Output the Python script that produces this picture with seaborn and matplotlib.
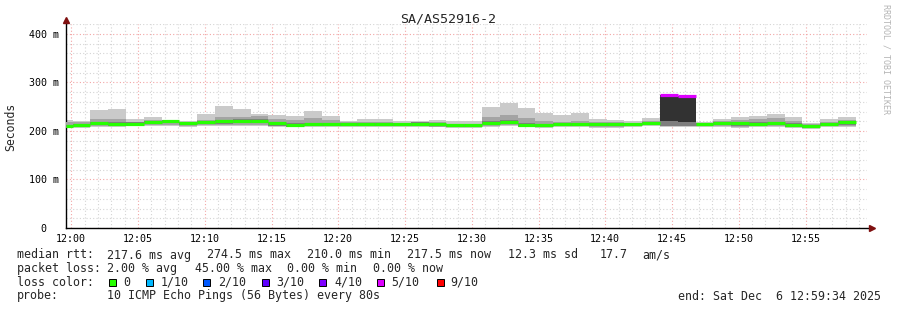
import numpy as np
import matplotlib
matplotlib.use("Agg")
import matplotlib.pyplot as plt
import seaborn as sns
from matplotlib.patches import Rectangle

# ---------------- data (minutes after 12:00, ms) ----------------
# bin start times: first partial bin then 44 probe rounds every 80 s
bin_starts = [-0.433] + [0.1 + 80 * j / 60 for j in range(44)]
bin_end_last = 0.1 + 80 * 44 / 60

median = [210.0, 212.4, 216.5, 215.0, 215.0, 218.6, 220.6, 215.8, 218.6, 220.0,
          221.0, 221.0, 215.8, 213.0, 214.4, 214.4, 214.0, 214.4, 214.0, 213.7,
          215.0, 214.0, 211.7, 212.0, 216.5, 218.0, 213.3, 211.7, 214.4, 214.4,
          214.0, 214.0, 214.0, 217.0, 274.5, 271.5, 214.8, 216.5, 215.5, 215.0,
          216.5, 213.0, 210.2, 214.0, 217.5]
loss = [0] * 34 + [4.5, 4.5] + [0] * 9          # lost pings out of 10

smoke_max = [222, 220.6, 243, 245.4, 224, 229.5, 222, 220.6, 235, 252,
             245, 235, 233, 231, 241, 231, 221, 224.7, 224, 221,
             221, 222, 220, 220, 250, 258, 248, 238, 233, 238,
             224.7, 222, 221, 227, 275, 272, 219, 224, 229.5, 231.5,
             235, 229.5, 217, 224, 228.8]
smoke_min = [206, 207, 209, 209, 210, 210, 211, 209, 210, 211,
             211, 211, 209, 208, 209, 209, 209, 209, 209, 209,
             209, 208, 207, 207, 209, 210, 209, 207, 209, 209,
             207, 207, 209, 210, 208, 208, 209, 209, 207, 208,
             209, 207, 205, 208, 209]
mid_hi = [218, 218, 224, 225, 219, 222, 222, 218, 223, 229,
          229, 230, 225, 222, 226, 222, 218, 218, 218, 217,
          218, 218, 215, 215, 228, 232, 226, 220, 219, 220,
          218, 218, 217, 221, 222, 222, 217, 220, 222, 224,
          226, 220, 214, 219, 223]
mid_lo = [207, 208, 211, 211, 211, 212, 213, 211, 212, 213,
          212, 213, 210, 209, 210, 210, 210, 210, 210, 210,
          210, 209, 208, 209, 210, 212, 210, 208, 210, 210,
          208, 208, 210, 212, 210, 210, 211, 211, 209, 210,
          211, 209, 207, 210, 211]
inner_hi = [213, 215, 219, 218, 218, 221, 223, 218, 221, 223,
            224, 224, 219, 216, 217, 217, 217, 217, 217, 216,
            218, 217, 214, 215, 220, 222, 216, 214, 217, 217,
            216, 216, 216, 219, 220, 220, 217, 219, 218, 218,
            219, 216, 212, 217, 220]
inner_lo = [207, 208, 212, 211, 211, 214, 216, 212, 214, 215,
            216, 216, 211, 209, 210, 210, 210, 210, 210, 210,
            211, 210, 208, 208, 212, 214, 209, 208, 210, 210,
            210, 210, 210, 213, 211, 211, 211, 212, 211, 211,
            212, 209, 207, 210, 213]
core_bins = [34, 35]
core_lo = [220, 219]

x_ticks = [0, 5, 10, 15, 20, 25, 30, 35, 40, 45, 50, 55]
x_labels = ["12:00", "12:05", "12:10", "12:15", "12:20", "12:25",
            "12:30", "12:35", "12:40", "12:45", "12:50", "12:55"]
y_ticks = [0, 100, 200, 300, 400]
y_labels = ["0  ", "100 m", "200 m", "300 m", "400 m"]

loss_names = ["0", "1/10", "2/10", "3/10", "4/10", "5/10", "9/10"]
loss_levels = [0, 1, 2, 3, 4, 5, 9]
loss_colors = ["#26ff00", "#00b8ff", "#0059ff", "#5e00ff", "#7e00ff", "#dd00ff", "#ff0000"]


def loss_color(n):
    col = loss_colors[0]
    for lvl, c in zip(loss_levels, loss_colors):
        if round(n + 1e-9) >= lvl:
            col = c
    return col


# ---------------- figure ----------------
sns.set_theme(style="white")
plt.rcParams["font.family"] = ["DejaVu Sans Mono", "DejaVu Sans"]

W, H = 897, 310
fig = plt.figure(figsize=(W / 100, H / 100), dpi=100)
fig.patch.set_facecolor("white")
ax = fig.add_axes([65.5 / W, (H - 228) / H, 801 / W, 204 / H])
ax.set_facecolor("white")

edges = bin_starts + [bin_end_last]


def band(lo, hi, color, z):
    ax.fill_between(edges, lo + [lo[-1]], hi + [hi[-1]], step="post",
                    color=color, lw=0, zorder=z)


band(smoke_min, smoke_max, "#cacaca", 2)
band(mid_lo, mid_hi, "#a4a4a4", 3)
band(inner_lo, inner_hi, "#7e7e7e", 4)

# dark core for the rounds with packet loss
ce = [bin_starts[i] for i in core_bins] + [bin_starts[core_bins[-1] + 1]]
chi = [median[i] for i in core_bins]
ax.fill_between(ce, core_lo + [core_lo[-1]], chi + [chi[-1]], step="post",
                color="#323232", lw=0, zorder=5)

# median line coloured by loss
ends = bin_starts[1:] + [bin_end_last]
ax.hlines(median, bin_starts, ends, colors=[loss_color(n) for n in loss],
          lw=2.3, zorder=6, capstyle="butt")

ax.set_xlim(-0.433, 59.567)
ax.set_ylim(0, 420.5)
ax.set_xticks(x_ticks)
ax.set_xticklabels(x_labels)
ax.set_yticks(y_ticks)
ax.set_yticklabels(y_labels)
ax.set_xticks(np.arange(0, 60, 1), minor=True)
ax.set_yticks(np.arange(0, 421, 20), minor=True)
ax.grid(which="major", color="#f2a6a6", ls=(0, (1, 2)), lw=0.8)
ax.grid(which="minor", color="#d4d4d4", ls=(0, (1, 2)), lw=0.8)
ax.set_axisbelow(True)

ax.tick_params(axis="x", which="both", length=0, pad=4, labelsize=7.2, colors="#000000")
ax.tick_params(axis="y", which="major", length=2, pad=3, labelsize=7.2, colors="#000000", direction="out")
ax.tick_params(axis="y", which="minor", length=2, direction="out", color="#606060")

for s in ["top", "right"]:
    ax.spines[s].set_visible(False)
for s in ["left", "bottom"]:
    ax.spines[s].set_color("#000000")
    ax.spines[s].set_linewidth(1.0)
ax.spines["bottom"].set_bounds(-0.433, 59.9)
ax.spines["left"].set_bounds(0, 425)

# axis arrows
ax.plot([59.95], [0], marker=">", color="#7f1010", ms=4.5, clip_on=False, zorder=10)
ax.plot([-0.433], [428], marker="^", color="#7f1010", ms=4.5, clip_on=False, zorder=10)


def ftext(x, y, s, **kw):
    fig.text(x / W, 1 - y / H, s, **kw)


ftext(448, 19, "SA/AS52916-2", ha="center", va="center", fontsize=9.6)
ftext(11, 127, "Seconds", ha="center", va="center", rotation=90, fontsize=8.3)
ftext(886, 4, "RRDTOOL / TOBI OETIKER", ha="center", va="top", rotation=270,
      fontsize=6.0, color="#b4b4b4")

fs = 8.35
r1, r2, r3, r4 = 255, 268.5, 282.3, 296
row1 = [(16.7, "median rtt:"), (107.3, "217.6 ms avg"), (207.3, "274.5 ms max"),
        (307.3, "210.0 ms min"), (407.0, "217.5 ms now"), (507.7, "12.3 ms sd"),
        (599.3, "17.7"), (642.3, "am/s")]
row2 = [(16.7, "packet loss:"), (107.3, "2.00 % avg"), (194.5, "45.00 % max"),
        (287.3, "0.00 % min"), (372.7, "0.00 % now")]
row4 = [(16.7, "probe:"), (107.3, "10 ICMP Echo Pings (56 Bytes) every 80s"),
        (678.3, "end: Sat Dec  6 12:59:34 2025")]
for x, s in row1:
    ftext(x, r1, s, ha="left", va="center", fontsize=fs)
for x, s in row2:
    ftext(x, r2, s, ha="left", va="center", fontsize=fs)
for x, s in row4:
    ftext(x, r4, s, ha="left", va="center", fontsize=fs)

ftext(16.7, r3, "loss color:", ha="left", va="center", fontsize=fs)
sq_x = [108.7, 146.0, 203.0, 261.7, 319.0, 376.7, 437.0]
lab_x = [123.3, 160.7, 218.0, 276.0, 334.0, 391.7, 450.0]
for sx, lx, name, col in zip(sq_x, lab_x, loss_names, loss_colors):
    fig.patches.append(Rectangle((sx / W, 1 - (r3 + 3.5) / H), 7 / W, 7 / H,
                                 transform=fig.transFigure, facecolor=col,
                                 edgecolor="#000000", lw=0.7))
    ftext(lx, r3, name, ha="left", va="center", fontsize=fs)

fig.savefig("out.png", dpi=100, facecolor="white")
